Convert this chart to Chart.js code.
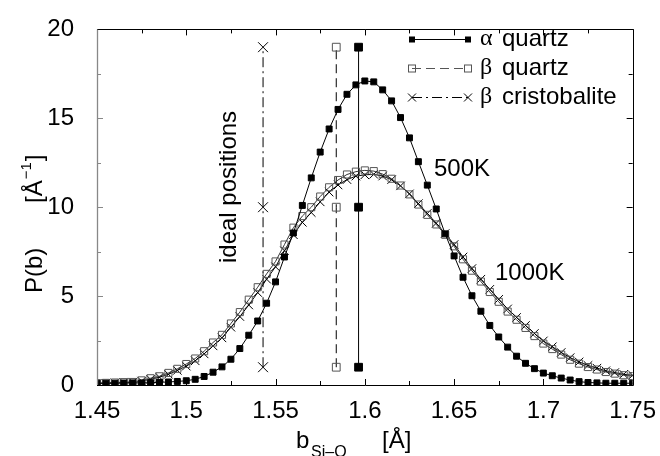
<!DOCTYPE html>
<html>
<head>
  <meta charset="UTF-8">
  <title>P(b) Si-O bond length distribution</title>
  <script src="https://cdn.jsdelivr.net/npm/chart.js"></script>
  <style>
    body { margin: 0; background: #fff; }
    #wrap { width: 660px; height: 456px; }
  </style>
</head>
<body>
<div id="wrap"><canvas id="grafico" width="660" height="456"></canvas></div>
<script>
// bond length grid (Å)
const bondLengths = [
  1.450, 1.455, 1.460, 1.465, 1.470, 1.475, 1.480, 1.485, 1.490, 1.495,
  1.500, 1.505, 1.510, 1.515, 1.520, 1.525, 1.530, 1.535, 1.540, 1.545,
  1.550, 1.555, 1.560, 1.565, 1.570, 1.575, 1.580, 1.585, 1.590, 1.595,
  1.600, 1.605, 1.610, 1.615, 1.620, 1.625, 1.630, 1.635, 1.640, 1.645,
  1.650, 1.655, 1.660, 1.665, 1.670, 1.675, 1.680, 1.685, 1.690, 1.695,
  1.700, 1.705, 1.710, 1.715, 1.720, 1.725, 1.730, 1.735, 1.740, 1.745,
  1.750
];
const alphaQuartz = [
  0.10, 0.10, 0.10, 0.11, 0.12, 0.12, 0.13, 0.15, 0.17, 0.20,
  0.24, 0.32, 0.48, 0.72, 1.02, 1.45, 2.05, 2.80, 3.60, 4.60,
  5.80, 7.20, 8.55, 10.10, 11.65, 13.10, 14.40, 15.50, 16.35, 16.88,
  17.10, 17.05, 16.60, 15.98, 15.04, 13.90, 12.56, 11.24, 9.90, 8.50,
  7.26, 6.06, 5.02, 4.15, 3.35, 2.70, 2.13, 1.62, 1.22, 0.92,
  0.67, 0.52, 0.39, 0.28, 0.19, 0.14, 0.12, 0.10, 0.10, 0.10,
  0.10
];
const betaQuartz = [
  0.10, 0.12, 0.14, 0.16, 0.17, 0.26, 0.38, 0.49, 0.68, 0.91,
  1.18, 1.49, 1.90, 2.39, 2.82, 3.46, 4.10, 4.80, 5.50, 6.25,
  6.95, 7.90, 8.85, 9.50, 10.00, 10.60, 11.12, 11.53, 11.84, 12.00,
  12.07, 12.03, 11.86, 11.60, 11.22, 10.72, 10.15, 9.57, 9.03, 8.45,
  7.80, 7.07, 6.43, 5.82, 5.23, 4.68, 4.13, 3.67, 3.21, 2.75,
  2.33, 2.02, 1.71, 1.42, 1.20, 1.01, 0.87, 0.73, 0.64, 0.55,
  0.50
];
const betaCristobalite = [
  0.08, 0.10, 0.12, 0.14, 0.16, 0.22, 0.32, 0.44, 0.60, 0.82,
  1.06, 1.36, 1.75, 2.20, 2.65, 3.25, 3.85, 4.50, 5.20, 5.95,
  6.65, 7.55, 8.45, 9.15, 9.70, 10.30, 10.85, 11.25, 11.55, 11.75,
  11.82, 11.85, 11.75, 11.55, 11.20, 10.75, 10.20, 9.65, 9.10, 8.52,
  7.90, 7.20, 6.55, 5.95, 5.38, 4.82, 4.28, 3.80, 3.35, 2.90,
  2.48, 2.15, 1.83, 1.54, 1.30, 1.10, 0.95, 0.80, 0.70, 0.60,
  0.55
];
// ideal bond positions (vertical markers)
const idealHeights = [1, 10, 19];
const idealAlpha = 1.5965;
const idealBetaQ = 1.584;
const idealCristo = 1.543;

const xTicks = [1.45, 1.5, 1.55, 1.6, 1.65, 1.7, 1.75];
const yTicks = [0, 5, 10, 15, 20];

const FONT = "'Liberation Sans', Arial, sans-serif";
const SERIF = "'Liberation Serif', 'DejaVu Serif', serif";

function serie(vals) { return bondLengths.map((x, i) => ({ x: x, y: vals[i] })); }
function ideal(x) { return idealHeights.map(h => ({ x: x, y: h })); }

// frame, inward ticks, axis titles, legend, notes
const decor = {
  id: 'decor',
  afterDatasetsDraw(chart) {
    const ctx = chart.ctx;
    const a = chart.chartArea;
    const xs = chart.scales.x, ys = chart.scales.y;
    ctx.save();
    // ticks
    ctx.lineWidth = 1;
    for (let v = 1.45; v <= 1.7501; v += 0.025) {
      const px = Math.round(xs.getPixelForValue(v)) + 0.5;
      const major = Math.abs(v * 20 - Math.round(v * 20)) < 1e-6;
      const len = major ? 6 : 4;
      ctx.strokeStyle = '#000';
      ctx.beginPath();
      ctx.moveTo(px, a.bottom); ctx.lineTo(px, a.bottom - len);
      ctx.moveTo(px, a.top); ctx.lineTo(px, a.top + len);
      ctx.stroke();
    }
    for (let v = 0; v <= 20; v += 2.5) {
      const py = Math.round(ys.getPixelForValue(v)) + 0.5;
      const len = (v % 5 === 0) ? 6 : 4;
      ctx.strokeStyle = '#888';
      ctx.beginPath(); ctx.moveTo(a.left, py); ctx.lineTo(a.left + len, py); ctx.stroke();
      ctx.strokeStyle = '#000';
      ctx.beginPath(); ctx.moveTo(a.right, py); ctx.lineTo(a.right - len, py); ctx.stroke();
    }
    // frame
    ctx.strokeStyle = '#000';
    ctx.beginPath();
    ctx.moveTo(a.left, Math.round(a.top) + 0.5);
    ctx.lineTo(Math.round(a.right) + 0.5, Math.round(a.top) + 0.5);
    ctx.lineTo(Math.round(a.right) + 0.5, Math.round(a.bottom) + 0.5);
    ctx.lineTo(a.left, Math.round(a.bottom) + 0.5);
    ctx.stroke();
    ctx.strokeStyle = '#888';
    ctx.lineWidth = 1.3;
    ctx.beginPath();
    ctx.moveTo(Math.round(a.left) + 0.5, a.top); ctx.lineTo(Math.round(a.left) + 0.5, a.bottom);
    ctx.stroke();

    ctx.fillStyle = '#000';
    ctx.textBaseline = 'alphabetic';
    ctx.textAlign = 'left';
    // x title
    ctx.font = '24px ' + FONT;
    ctx.fillText('b', 296, 448);
    ctx.font = '16px ' + FONT;
    ctx.fillText('Si\u2013O', 311, 457);
    ctx.font = '24px ' + FONT;
    ctx.fillText('[\u00C5]', 382, 448);

    // y title (rotated)
    ctx.save();
    ctx.translate(42, 293);
    ctx.rotate(-Math.PI / 2);
    ctx.font = '24px ' + FONT;
    ctx.fillText('P(b)', 0, 0);
    let w = 90;
    ctx.fillText('[\u00C5', w, 0);
    w += ctx.measureText('[\u00C5').width;
    ctx.font = '15px ' + FONT;
    ctx.fillText('\u22121', w + 1, -11);
    w += ctx.measureText('\u22121').width + 2;
    ctx.font = '24px ' + FONT;
    ctx.fillText(']', w, 0);
    ctx.restore();

    // ideal positions label
    ctx.save();
    ctx.translate(236, 263);
    ctx.rotate(-Math.PI / 2);
    ctx.font = '24px ' + FONT;
    ctx.fillText('ideal positions', 0, 0);
    ctx.restore();

    // temperatures
    ctx.font = '24px ' + FONT;
    ctx.textBaseline = 'middle';
    ctx.fillText('500K', 434, 169);
    ctx.fillText('1000K', 495, 273);

    // legend
    const rows = [
      { y: 39, greek: '\u03B1', name: 'quartz', dash: [], color: '#000', mark: 'fill' },
      { y: 68, greek: '\u03B2', name: 'quartz', dash: [9, 5], color: '#555', mark: 'open' },
      { y: 97, greek: '\u03B2', name: 'cristobalite', dash: [10, 4, 2, 4], color: '#000', mark: 'cross' }
    ];
    rows.forEach(r => {
      ctx.strokeStyle = r.color;
      ctx.lineWidth = 1;
      ctx.setLineDash(r.dash);
      ctx.beginPath(); ctx.moveTo(412, r.y + 0.5); ctx.lineTo(468, r.y + 0.5); ctx.stroke();
      ctx.setLineDash([]);
      [412, 468].forEach(px => {
        if (r.mark === 'fill') {
          ctx.fillStyle = '#000'; ctx.fillRect(px - 3, r.y - 2.5, 6, 6);
        } else if (r.mark === 'open') {
          ctx.strokeRect(px - 3.5, r.y - 3, 7, 7);
        } else {
          ctx.beginPath();
          ctx.moveTo(px - 4, r.y - 3.5); ctx.lineTo(px + 4, r.y + 4.5);
          ctx.moveTo(px - 4, r.y + 4.5); ctx.lineTo(px + 4, r.y - 3.5);
          ctx.stroke();
        }
      });
      ctx.fillStyle = '#000';
      ctx.font = '24px ' + SERIF;
      ctx.fillText(r.greek, 480, r.y);
      ctx.font = '24px ' + FONT;
      ctx.fillText(r.name, 502, r.y);
    });
    ctx.restore();
  }
};

new Chart(document.getElementById('grafico'), {
  type: 'scatter',
  data: {
    datasets: [
      { label: 'α quartz', data: serie(alphaQuartz), showLine: true,
        borderColor: '#000', borderWidth: 1, pointStyle: 'rect', pointRadius: 4.2,
        pointBackgroundColor: '#000', pointBorderColor: '#000', pointBorderWidth: 1 },
      { label: 'β quartz', data: serie(betaQuartz), showLine: true,
        borderColor: '#333', borderWidth: 1, pointStyle: 'rect', pointRadius: 5,
        pointBackgroundColor: 'rgba(0,0,0,0)', pointBorderColor: '#555', pointBorderWidth: 1 },
      { label: 'β cristobalite', data: serie(betaCristobalite), showLine: true,
        borderColor: '#000', borderWidth: 1, pointStyle: 'crossRot', pointRadius: 6,
        pointBorderColor: '#000', pointBorderWidth: 1 },
      { label: 'α ideal', data: ideal(idealAlpha), showLine: true,
        borderColor: '#000', borderWidth: 1, pointStyle: 'rect', pointRadius: 5.5,
        pointBackgroundColor: '#000', pointBorderColor: '#000' },
      { label: 'β quartz ideal', data: ideal(idealBetaQ), showLine: true, borderDash: [9, 5],
        borderColor: '#000', borderWidth: 1, pointStyle: 'rect', pointRadius: 5.5,
        pointBackgroundColor: 'rgba(0,0,0,0)', pointBorderColor: '#555', pointBorderWidth: 1 },
      { label: 'β cristobalite ideal', data: ideal(idealCristo), showLine: true, borderDash: [10, 4, 2, 4],
        borderColor: '#000', borderWidth: 1, pointStyle: 'crossRot', pointRadius: 7,
        pointBorderColor: '#000', pointBorderWidth: 1 }
    ]
  },
  options: {
    responsive: false,
    animation: false,
    devicePixelRatio: 1,
    layout: { padding: { left: 0, right: 26, top: 22, bottom: 0 } },
    plugins: { legend: { display: false }, tooltip: { enabled: false } },
    scales: {
      x: {
        type: 'linear', min: 1.45, max: 1.75,
        grid: { display: false }, border: { display: false },
        afterBuildTicks: s => { s.ticks = xTicks.map(v => ({ value: v })); },
        afterFit: s => { s.height = 71; },
        ticks: { padding: 4, color: '#000', font: { family: FONT, size: 24 },
          callback: v => String(Math.round(v * 100) / 100) }
      },
      y: {
        type: 'linear', min: 0, max: 20,
        grid: { display: false }, border: { display: false },
        afterBuildTicks: s => { s.ticks = yTicks.map(v => ({ value: v })); },
        afterFit: s => { s.width = 97; },
        ticks: { padding: 15, color: '#000', font: { family: FONT, size: 24 } }
      }
    }
  },
  plugins: [decor]
});
</script>
</body>
</html>
